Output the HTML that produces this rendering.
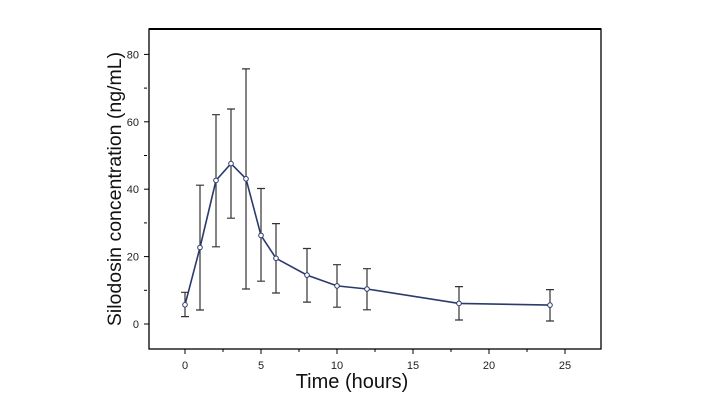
<!DOCTYPE html>
<html><head><style>body{margin:0;background:#fff}svg{display:block}</style></head><body>
<svg width="704" height="409" xmlns="http://www.w3.org/2000/svg" font-family="Liberation Sans, sans-serif">
<rect x="149" y="29" width="452" height="320" fill="none" stroke="#000" stroke-width="1.3"/>
<line x1="149" y1="29" x2="601" y2="29" stroke="#000" stroke-width="2"/>
<g stroke="#000" stroke-width="1">
<line x1="144" y1="324" x2="149" y2="324"/><line x1="144" y1="290.3" x2="147" y2="290.3"/>
<line x1="144" y1="256.6" x2="149" y2="256.6"/><line x1="144" y1="222.9" x2="147" y2="222.9"/>
<line x1="144" y1="189.2" x2="149" y2="189.2"/><line x1="144" y1="155.5" x2="147" y2="155.5"/>
<line x1="144" y1="121.8" x2="149" y2="121.8"/><line x1="144" y1="88.1" x2="147" y2="88.1"/>
<line x1="144" y1="54.4" x2="149" y2="54.4"/>
<line x1="185" y1="349" x2="185" y2="354"/><line x1="223" y1="349" x2="223" y2="352"/>
<line x1="261" y1="349" x2="261" y2="354"/><line x1="299" y1="349" x2="299" y2="352"/>
<line x1="337" y1="349" x2="337" y2="354"/><line x1="375" y1="349" x2="375" y2="352"/>
<line x1="413" y1="349" x2="413" y2="354"/><line x1="451" y1="349" x2="451" y2="352"/>
<line x1="489" y1="349" x2="489" y2="354"/><line x1="527" y1="349" x2="527" y2="352"/>
<line x1="565" y1="349" x2="565" y2="354"/>
</g>
<g font-size="11" fill="#222" text-anchor="end">
<text x="139" y="328">0</text><text x="139" y="260.6">20</text><text x="139" y="193.2">40</text><text x="139" y="125.8">60</text><text x="139" y="58.4">80</text>
</g>
<g font-size="11" fill="#222" text-anchor="middle">
<text x="185" y="369">0</text><text x="261" y="369">5</text><text x="337" y="369">10</text><text x="413" y="369">15</text><text x="489" y="369">20</text><text x="565" y="369">25</text>
</g>
<text x="352" y="388" font-size="20" text-anchor="middle" fill="#111">Time (hours)</text>
<text transform="translate(121,189) rotate(-90)" font-size="19.5" text-anchor="middle" fill="#111">Silodosin concentration (ng/mL)</text>
<g stroke="#444" stroke-width="1.2" id="eb"></g>
<g stroke="#333" stroke-width="1.2">
<path d="M185 316.6V292.3M181 316.6h8M181 292.3h8"/>
<path d="M200 310V185.2M196 310h8M196 185.2h8"/>
<path d="M216 246.8V114.7M212 246.8h8M212 114.7h8"/>
<path d="M231 218.2V109M227 218.2h8M227 109h8"/>
<path d="M246 289V68.9M242 289h8M242 68.9h8"/>
<path d="M261 281.2V188.5M257 281.2h8M257 188.5h8"/>
<path d="M276 293V223.6M272 293h8M272 223.6h8"/>
<path d="M307 302.1V248.5M303 302.1h8M303 248.5h8"/>
<path d="M337 307.2V264.7M333 307.2h8M333 264.7h8"/>
<path d="M367 309.8V268.7M363 309.8h8M363 268.7h8"/>
<path d="M459 320V286.6M455 320h8M455 286.6h8"/>
<path d="M550 321V289.6M546 321h8M546 289.6h8"/>
</g>
<polyline fill="none" stroke="#2b3a6b" stroke-width="1.6" points="185,304.8 200,247.5 216,180.4 231,163.6 246,178.8 261,235.4 276,258.3 307,275.1 337,285.9 367,289 459,303.4 550,305.1"/>
<g fill="#fff" stroke="#2b3a6b" stroke-width="1">
<circle cx="185" cy="304.8" r="2.3"/><circle cx="200" cy="247.5" r="2.3"/><circle cx="216" cy="180.4" r="2.3"/><circle cx="231" cy="163.6" r="2.3"/><circle cx="246" cy="178.8" r="2.3"/><circle cx="261" cy="235.4" r="2.3"/><circle cx="276" cy="258.3" r="2.3"/><circle cx="307" cy="275.1" r="2.3"/><circle cx="337" cy="285.9" r="2.3"/><circle cx="367" cy="289" r="2.3"/><circle cx="459" cy="303.4" r="2.3"/><circle cx="550" cy="305.1" r="2.3"/>
</g>
</svg>
</body></html>
